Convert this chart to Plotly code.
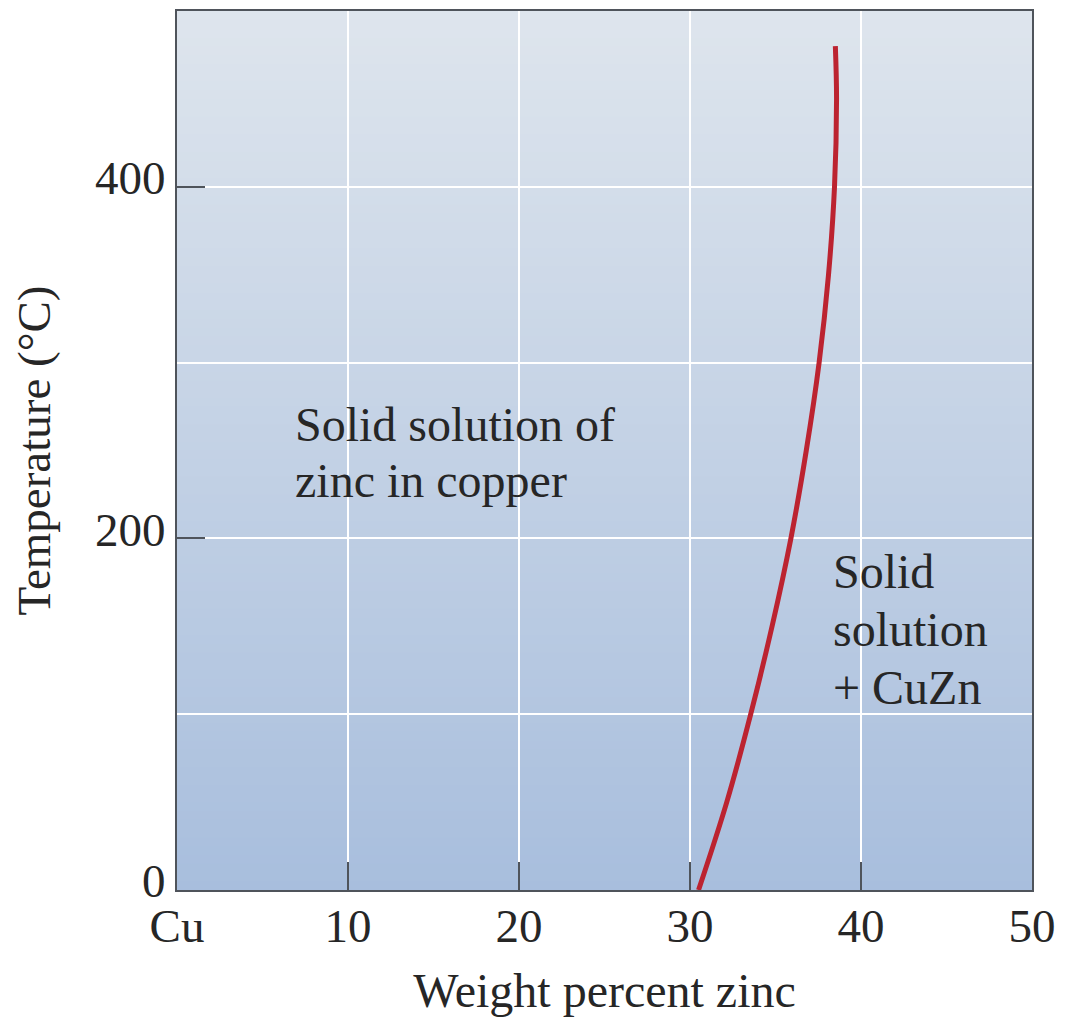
import plotly.graph_objects as go

# Solvus curve: weight percent zinc vs temperature
temperature = [0, 50, 100, 150, 200, 250, 300, 350, 400, 450, 480]
wt_zinc = [30.5, 32.15, 33.55, 34.8, 35.9, 36.8, 37.55, 38.1, 38.45, 38.57, 38.5]

x_tickvals = [0, 10, 20, 30, 40, 50]
x_ticktext = ["Cu", "10", "20", "30", "40", "50"]
y_tickvals = [0, 200, 400]

left_label_lines = ["Solid solution of", "zinc in copper"]
left_label_y = [265, 233]
right_label_lines = ["Solid", "solution", "+ CuZn"]
right_label_y = [181, 148, 115]

FONT = "Liberation Serif, Times New Roman, serif"
TXT = "#262626"
AX = "#4f545b"

fig = go.Figure()

# background vertical gradient built from bands (styling only)
top_c = (222, 229, 237)
bot_c = (168, 190, 221)
n_bands = 100
shapes = []
for i in range(n_bands):
    f = (i + 0.5) / n_bands
    c = tuple(round(bot_c[k] + (top_c[k] - bot_c[k]) * f) for k in range(3))
    shapes.append(dict(type="rect", xref="x", yref="y", layer="below",
                       x0=0, x1=50, y0=500 * i / n_bands, y1=500 * (i + 1) / n_bands + 0.5,
                       fillcolor="rgb(%d,%d,%d)" % c, line=dict(width=0)))

fig.add_trace(go.Scatter(x=wt_zinc, y=temperature, mode="lines",
                         line=dict(color="#bc2330", width=5, shape="spline", smoothing=1.0),
                         hoverinfo="skip", showlegend=False))

for txt, yy in zip(left_label_lines, left_label_y):
    fig.add_annotation(x=6.77, y=yy, xref="x", yref="y", xanchor="left", yanchor="middle",
                       showarrow=False, text=txt,
                       font=dict(family=FONT, size=48, color=TXT))
for txt, yy in zip(right_label_lines, right_label_y):
    fig.add_annotation(x=38.27, y=yy, xref="x", yref="y", xanchor="left", yanchor="middle",
                       showarrow=False, text=txt,
                       font=dict(family=FONT, size=48, color=TXT))

fig.update_layout(
    width=1065, height=1020,
    margin=dict(l=177, r=31, t=9, b=130),
    paper_bgcolor="white", plot_bgcolor="rgba(0,0,0,0)",
    shapes=shapes,
    font=dict(family=FONT, size=47, color=TXT),
    showlegend=False,
)
fig.update_xaxes(range=[0, 50], tickvals=x_tickvals, ticktext=x_ticktext,
                 ticks="inside", ticklen=28, tickwidth=2, tickcolor=AX,
                 ticklabelstandoff=-6,
                 showgrid=True, gridcolor="white", gridwidth=2,
                 showline=True, mirror=True, linecolor=AX, linewidth=2,
                 zeroline=False, tickfont=dict(family=FONT, size=47, color=TXT),
                 title=dict(text="Weight percent zinc", standoff=22,
                            font=dict(family=FONT, size=48, color=TXT)))
fig.update_yaxes(range=[0, 500], tickvals=y_tickvals,
                 ticks="inside", ticklen=28, tickwidth=2, tickcolor=AX,
                 ticklabelshift=-9,
                 showgrid=True, gridcolor="white", gridwidth=2,
                 minor=dict(dtick=100, tick0=0, showgrid=True, gridcolor="white", gridwidth=2, ticks=""),
                 showline=True, mirror=True, linecolor=AX, linewidth=2,
                 zeroline=False, tickfont=dict(family=FONT, size=47, color=TXT),
                 title=dict(text="Temperature (°C)", standoff=30,
                            font=dict(family=FONT, size=47, color=TXT)))

fig.write_html("out.html")
